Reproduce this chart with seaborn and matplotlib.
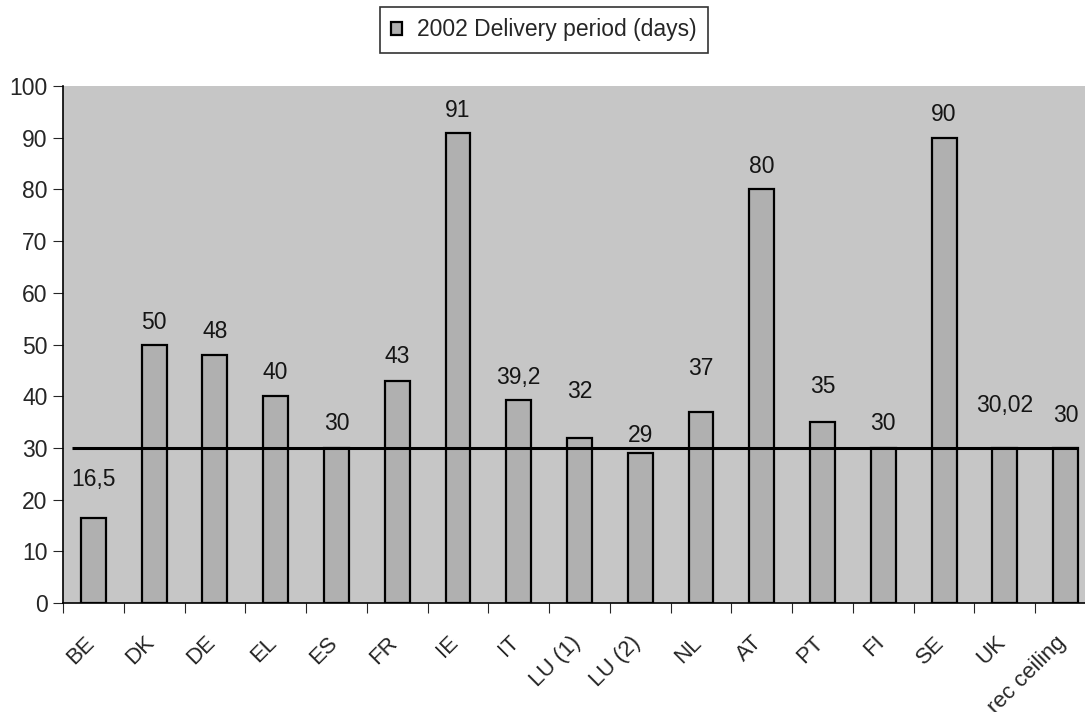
import numpy as np
import pandas as pd
import matplotlib
matplotlib.use("Agg")
import matplotlib.pyplot as plt
import matplotlib.transforms as mtransforms
import seaborn as sns

# Data
countries = ["BE", "DK", "DE", "EL", "ES", "FR", "IE", "IT", "LU (1)", "LU (2)",
             "NL", "AT", "PT", "FI", "SE", "UK", "rec ceiling"]
delivery_days = [16.5, 50, 48, 40, 30, 43, 91, 39.2, 32, 29,
                 37, 80, 35, 30, 90, 30.02, 30]
value_labels = ["16,5", "50", "48", "40", "30", "43", "91", "39,2", "32", "29",
                "37", "80", "35", "30", "90", "30,02", "30"]
ceiling = 30
series_name = "2002 Delivery period (days)"

# label offsets above bar tops (pixels), as placed in the original
label_offsets_px = [38, 22, 23, 24, 24, 24, 22, 23, 46, 18,
                    43, 23, 36, 24, 23, 42, 32]

df = pd.DataFrame({"country": countries, "days": delivery_days})

sns.set_style("white")
plt.rcParams["font.family"] = ["Liberation Sans", "DejaVu Sans"]

fig = plt.figure(figsize=(10.85, 7.12), dpi=100)
ax = fig.add_axes([63 / 1085, 1 - 603 / 712, 1033 / 1085, 517 / 712])
ax.set_facecolor("#c6c6c6")

sns.barplot(data=df, x="country", y="days", color="#b0b0b0", width=0.41,
            edgecolor="black", linewidth=1.6, saturation=1, ax=ax,
            label=series_name)

# recommended ceiling line
n = len(countries)
ax.hlines(ceiling, -0.35, n - 1 + 0.205, color="black", linewidth=2.2, zorder=5)

# value labels
for i, (v, txt, off) in enumerate(zip(delivery_days, value_labels, label_offsets_px)):
    ax.annotate(txt, (i, v), xytext=(0, off * 72 / 100), textcoords="offset points",
                ha="center", va="center", fontsize=16.5, color="#151515")

ax.set_ylim(0, 100)
ax.set_xlim(-0.5, n - 0.5)
ax.set_yticks(np.arange(0, 101, 10))
ax.tick_params(axis="y", labelsize=16.5, length=7, width=0.8, direction="out",
               left=True, pad=4)
ax.set_xticks(np.arange(-0.5, n, 1.0))
ax.set_xticklabels([])
ax.set_xticks(np.arange(n), minor=True)
ax.set_xticklabels(countries, minor=True, rotation=45, ha="right",
                   rotation_mode="anchor", fontsize=16)
ax.tick_params(axis="x", which="major", length=7, width=0.8, bottom=True, direction="out")
ax.tick_params(axis="x", which="minor", length=0, pad=21)
shift = mtransforms.ScaledTranslation(-10 / 100, 0, fig.dpi_scale_trans)
for lab in ax.get_xticklabels(minor=True):
    lab.set_va("top")
    lab.set_transform(lab.get_transform() + shift)
ax.set_xlabel("")
ax.set_ylabel("")

for s in ["top", "right"]:
    ax.spines[s].set_visible(False)
for s in ["left", "bottom"]:
    ax.spines[s].set_color("black")
    ax.spines[s].set_linewidth(1.2)

leg = ax.legend(loc="upper center", bbox_to_anchor=(544 / 1085, 1 - 7 / 712),
                bbox_transform=fig.transFigure, fontsize=16.5, frameon=True,
                fancybox=False, edgecolor="black", handlelength=0.5,
                handleheight=0.5, handletextpad=0.65, borderpad=0.5,
                borderaxespad=0)
leg.get_frame().set_linewidth(1.2)

fig.savefig("out.png", dpi=100)
